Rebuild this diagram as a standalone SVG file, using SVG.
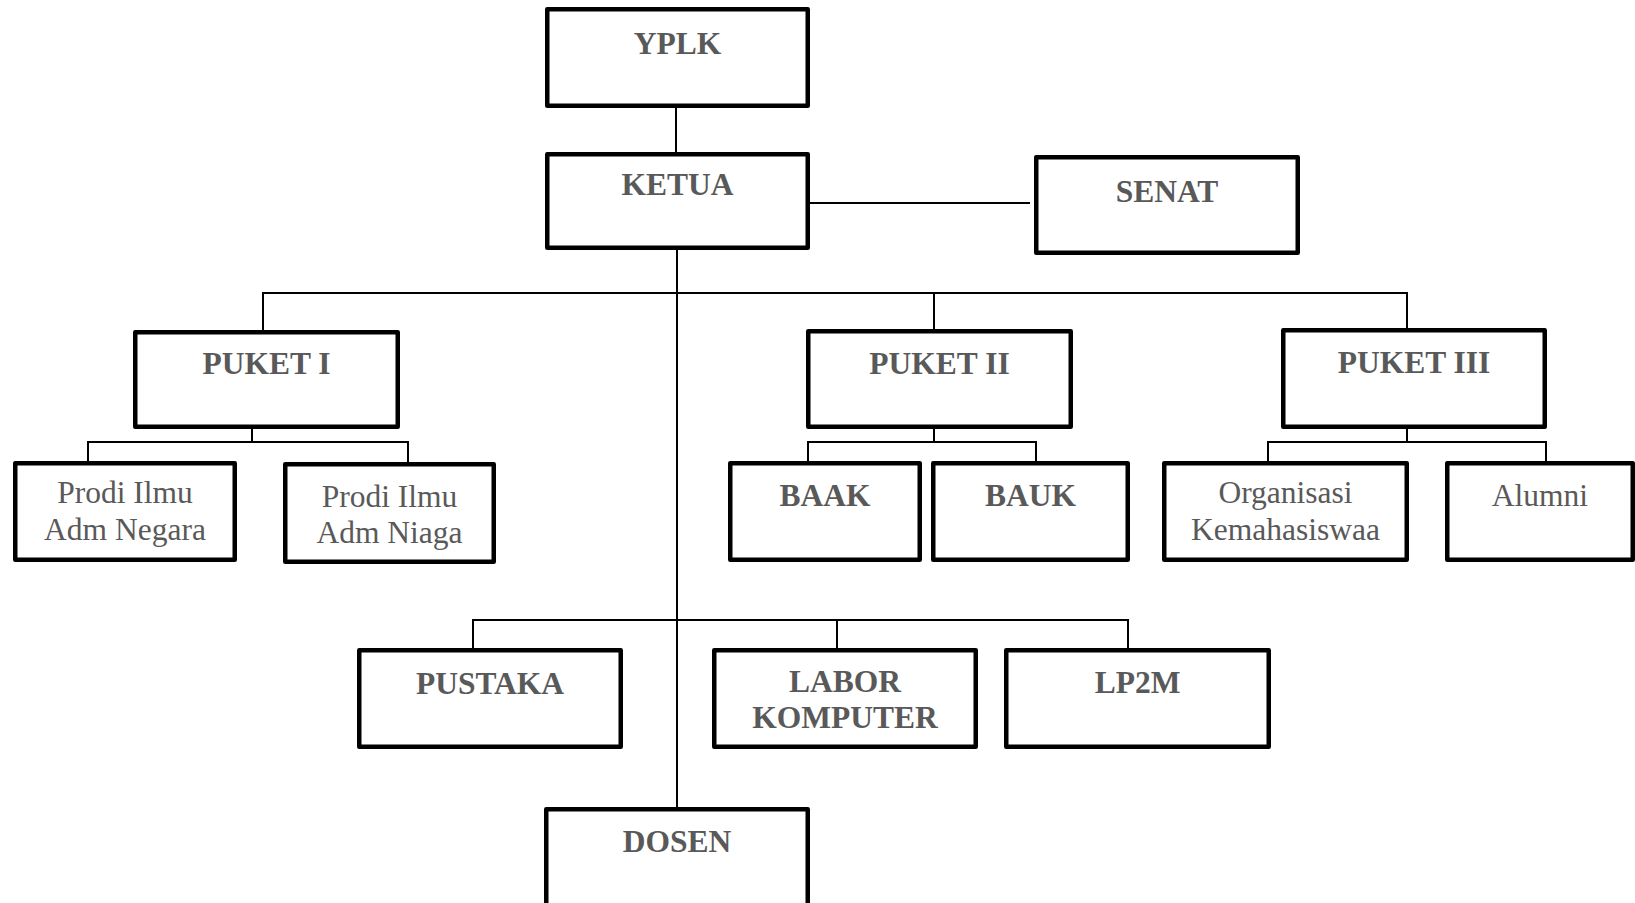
<svg xmlns="http://www.w3.org/2000/svg" width="1635" height="903" viewBox="0 0 1635 903">
<style>
.box{fill:#fff;stroke:#000;stroke-width:4.5;stroke-linejoin:round}
.c{fill:none;stroke:#000;stroke-width:2}
.b{font-family:"Liberation Serif","Times New Roman",serif;font-weight:bold;font-size:31.5px;fill:#595959;text-anchor:middle}
.r{font-family:"Liberation Serif","Times New Roman",serif;font-size:31.5px;fill:#595959;text-anchor:middle}
</style>
<rect width="1635" height="903" fill="#fff"/>
<g id="connectors">
<path class="c" d="M676,108V152"/>
<path class="c" d="M810,203H1030"/>
<path class="c" d="M677,250V807"/>
<path class="c" d="M263,330V293H1407V328M934,293V329"/>
<path class="c" d="M252,429V442M88,461V442H408V462"/>
<path class="c" d="M934,429V442M808,461V442H1036V461"/>
<path class="c" d="M1407,429V442M1268,461V442H1546V461"/>
<path class="c" d="M473,648V620H1128V648M837,620V648"/>
</g>
<g id="yplk"><rect class="box" x="547.25" y="9.25" width="260.5" height="96.5"/><text class="b" x="677.5" y="54">YPLK</text></g>
<g id="ketua"><rect class="box" x="547.25" y="154.25" width="260.5" height="93.5"/><text class="b" x="677.5" y="195">KETUA</text></g>
<g id="senat"><rect class="box" x="1036.25" y="157.25" width="261.5" height="95.5"/><text class="b" x="1167" y="202">SENAT</text></g>
<g id="puket1"><rect class="box" x="135.25" y="332.25" width="262.5" height="94.5"/><text class="b" x="266.5" y="374">PUKET I</text></g>
<g id="puket2"><rect class="box" x="808.25" y="331.25" width="262.5" height="95.5"/><text class="b" x="939.5" y="374">PUKET II</text></g>
<g id="puket3"><rect class="box" x="1283.25" y="330.25" width="261.5" height="96.5"/><text class="b" x="1414" y="373">PUKET III</text></g>
<g id="prodi-negara"><rect class="box" x="15.25" y="463.25" width="219.5" height="96.5"/><text class="r" x="125" y="503">Prodi Ilmu</text><text class="r" x="125" y="540">Adm Negara</text></g>
<g id="prodi-niaga"><rect class="box" x="285.25" y="464.25" width="208.5" height="97.5"/><text class="r" x="389.5" y="507">Prodi Ilmu</text><text class="r" x="389.5" y="543">Adm Niaga</text></g>
<g id="baak"><rect class="box" x="730.25" y="463.25" width="189.5" height="96.5"/><text class="b" x="825" y="506">BAAK</text></g>
<g id="bauk"><rect class="box" x="933.25" y="463.25" width="194.5" height="96.5"/><text class="b" x="1030.5" y="506">BAUK</text></g>
<g id="organisasi"><rect class="box" x="1164.25" y="463.25" width="242.5" height="96.5"/><text class="r" x="1285.5" y="503">Organisasi</text><text class="r" x="1285.5" y="540">Kemahasiswaa</text></g>
<g id="alumni"><rect class="box" x="1447.25" y="463.25" width="185.5" height="96.5"/><text class="r" x="1540" y="506">Alumni</text></g>
<g id="pustaka"><rect class="box" x="359.25" y="650.25" width="261.5" height="96.5"/><text class="b" x="490" y="694">PUSTAKA</text></g>
<g id="labor"><rect class="box" x="714.25" y="650.25" width="261.5" height="96.5"/><text class="b" x="845" y="692">LABOR</text><text class="b" x="845" y="728">KOMPUTER</text></g>
<g id="lp2m"><rect class="box" x="1006.25" y="650.25" width="262.5" height="96.5"/><text class="b" x="1137.5" y="693">LP2M</text></g>
<g id="dosen"><rect class="box" x="546.25" y="809.25" width="261.5" height="110"/><text class="b" x="677" y="852">DOSEN</text></g>
</svg>
